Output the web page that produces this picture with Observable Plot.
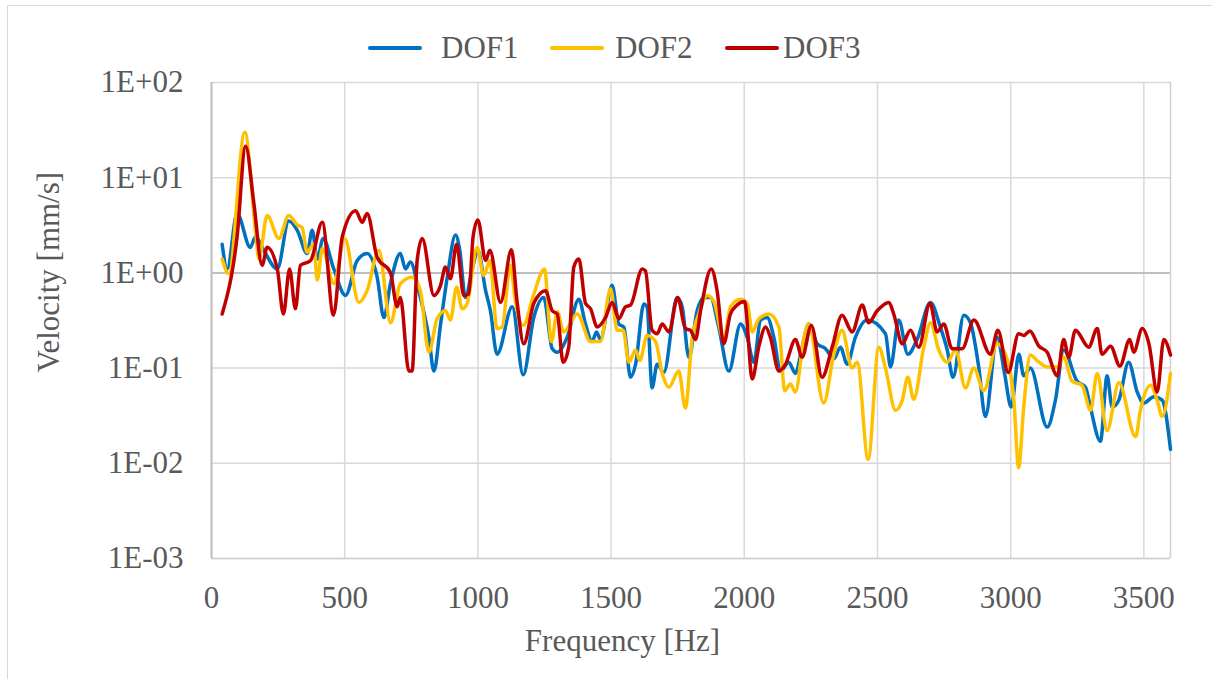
<!DOCTYPE html>
<html>
<head>
<meta charset="utf-8">
<script src="https://cdn.jsdelivr.net/npm/d3@7"></script>
<script src="https://cdn.jsdelivr.net/npm/@observablehq/plot@0.6"></script>
<style>
  html, body { margin: 0; padding: 0; background: #fff; }
  #wrap { position: relative; width: 1212px; height: 679px; overflow: hidden; font-family: 'Liberation Serif', 'Times New Roman', serif !important; }
  #wrap svg, #wrap svg text { font-family: 'Liberation Serif', 'Times New Roman', serif !important; }
  #frame { position: absolute; left: 7px; top: 5px; right: -3px; bottom: -3px; border: 1px solid #d9d9d9; pointer-events: none; }
  .sw { position: absolute; height: 4px; width: 54px; top: 45.5px; border-radius: 2px; }
  .lt { position: absolute; top: 32px; font-size: 31px; line-height: 31px; color: #595959; white-space: nowrap; font-family: 'Liberation Serif', 'Times New Roman', serif !important; }
</style>
</head>
<body>
<div id="wrap"><div id="frame"></div></div>
<script>
// ---- Data ----
const seriesNames = ["DOF1", "DOF2", "DOF3"];
const seriesColors = ["#0070C0", "#FFC000", "#C00000"];

const xTicks = [0, 500, 1000, 1500, 2000, 2500, 3000, 3500];
const xTickLabels = ["0", "500", "1000", "1500", "2000", "2500", "3000", "3500"];
const yTicks = [1e-3, 1e-2, 1e-1, 1e0, 1e1, 1e2];
const yTickLabels = ["1E-03", "1E-02", "1E-01", "1E+00", "1E+01", "1E+02"];

const dof1Freq = [40,59,96,146,165,196,247,290,322,359,378,397,419,459,503,547,584,622,647,672,709,728,747,778,816,835,860,885,916,932,953,979,1000,1029,1047,1072,1129,1170,1210,1247,1279,1298,1335,1379,1404,1429,1445,1460,1504,1529,1548,1573,1592,1623,1635,1654,1673,1698,1748,1767,1792,1823,1848,1873,1904,1942,1986,2011,2036,2061,2086,2111,2136,2167,2192,2217,2242,2274,2305,2336,2361,2386,2417,2461,2530,2549,2580,2614,2649,2699,2736,2762,2784,2824,2849,2880,2905,2949,2977,3002,3031,3049,3074,3137,3168,3199,3249,3281,3300,3337,3362,3381,3406,3443,3475,3500,3537,3569,3600];
const dof1Vel  = [2.0,1.1,4.2,1.85,2.4,1.73,1.1,3.5,2.8,1.6,2.8,1.4,2.3,1.1,0.58,1.35,1.6,0.9,0.34,0.78,1.6,1.1,1.3,0.65,0.21,0.093,0.29,0.9,2.5,1.73,0.55,1.1,1.73,0.65,0.4,0.14,0.44,0.085,0.34,0.55,0.16,0.147,0.21,0.53,0.29,0.19,0.24,0.2,0.74,0.29,0.27,0.08,0.11,0.47,0.44,0.062,0.11,0.09,0.55,0.44,0.13,0.4,0.55,0.55,0.27,0.093,0.29,0.21,0.115,0.32,0.34,0.21,0.093,0.115,0.088,0.166,0.29,0.18,0.16,0.125,0.166,0.11,0.21,0.32,0.23,0.103,0.32,0.14,0.2,0.49,0.27,0.155,0.08,0.36,0.3,0.103,0.031,0.21,0.088,0.039,0.14,0.083,0.1,0.024,0.046,0.155,0.073,0.063,0.038,0.017,0.083,0.039,0.046,0.115,0.056,0.043,0.05,0.046,0.014];

const dof2Freq = [40,65,125,165,178,209,253,290,322,340,359,384,397,416,459,500,553,584,628,672,709,753,784,816,847,878,897,920,941,960,997,1022,1045,1072,1091,1122,1141,1170,1210,1250,1276,1298,1322,1373,1423,1460,1498,1523,1545,1567,1592,1608,1635,1667,1692,1717,1754,1779,1804,1829,1861,1886,1923,1948,1986,2011,2030,2055,2092,2130,2152,2173,2192,2223,2242,2298,2336,2367,2405,2424,2465,2505,2530,2568,2593,2614,2636,2674,2699,2730,2762,2793,2830,2862,2899,2949,2980,3012,3030,3049,3074,3099,3137,3175,3199,3230,3268,3300,3325,3362,3406,3469,3487,3525,3550,3569,3600];
const dof2Vel  = [1.4,0.98,30,2.8,1.4,4.0,2.3,4.0,3.2,3.0,1.65,2.0,0.84,1.8,0.77,2.3,0.49,0.65,1.73,0.3,0.77,0.9,0.65,0.147,0.33,0.4,0.32,0.71,0.42,0.48,1.85,0.94,1.35,0.26,0.27,1.2,0.5,0.28,0.6,1.1,0.19,0.39,0.24,0.37,0.19,0.19,0.68,0.25,0.25,0.115,0.155,0.12,0.22,0.19,0.088,0.063,0.093,0.038,0.2,0.37,0.58,0.5,0.2,0.44,0.53,0.48,0.24,0.33,0.37,0.27,0.058,0.068,0.056,0.2,0.29,0.043,0.14,0.25,0.1,0.115,0.011,0.166,0.1,0.036,0.046,0.08,0.047,0.166,0.3,0.155,0.115,0.155,0.062,0.1,0.058,0.18,0.14,0.046,0.009,0.039,0.137,0.12,0.103,0.103,0.13,0.073,0.066,0.036,0.088,0.022,0.07,0.019,0.036,0.066,0.046,0.031,0.088];

const dof3Freq = [40,96,128,159,190,209,247,270,293,315,334,372,416,458,491,541,566,584,622,672,697,709,741,753,772,791,835,860,878,897,920,947,966,982,1000,1029,1045,1085,1126,1147,1172,1210,1254,1279,1298,1320,1341,1360,1379,1404,1423,1448,1479,1504,1529,1554,1573,1617,1629,1654,1673,1692,1717,1750,1779,1798,1817,1836,1876,1898,1923,1948,1973,2001,2030,2055,2080,2098,2130,2155,2192,2217,2252,2292,2330,2367,2405,2443,2467,2499,2543,2561,2593,2624,2655,2697,2724,2749,2780,2818,2862,2924,2952,2991,3030,3049,3072,3106,3137,3175,3199,3218,3243,3293,3325,3343,3375,3410,3447,3462,3494,3519,3550,3575,3600];
const dof3Vel  = [0.37,2.4,21.4,5.4,1.2,1.86,1.1,0.37,1.1,0.42,1.2,1.35,3.4,0.36,2.4,4.5,3.4,4.2,1.46,1.0,0.44,0.55,0.093,0.093,1.35,2.3,0.58,0.74,1.15,0.87,2.0,0.58,0.6,2.4,3.6,1.35,1.73,0.49,1.75,0.5,0.18,0.48,0.65,0.4,0.37,0.115,0.166,1.15,1.4,0.48,0.42,0.27,0.34,0.49,0.33,0.44,0.46,1.1,1.05,0.25,0.23,0.29,0.24,0.55,0.26,0.25,0.2,0.4,1.1,0.65,0.18,0.37,0.46,0.5,0.077,0.17,0.27,0.21,0.093,0.11,0.2,0.13,0.28,0.08,0.166,0.36,0.24,0.46,0.3,0.4,0.49,0.37,0.18,0.25,0.166,0.48,0.24,0.29,0.16,0.16,0.32,0.14,0.25,0.09,0.23,0.22,0.245,0.17,0.147,0.083,0.2,0.13,0.25,0.166,0.26,0.14,0.17,0.105,0.2,0.147,0.26,0.18,0.056,0.2,0.137];

// ---- Build table ----
const seriesData = [[dof1Freq, dof1Vel], [dof2Freq, dof2Vel], [dof3Freq, dof3Vel]];
const rows = seriesData.flatMap(([f, v], i) => f.map((x, j) => ({series: seriesNames[i], freq: x, vel: v[j]})));

const font = "'Liberation Serif', 'Times New Roman', serif";
const textColor = "#595959";

const chart = Plot.plot({
  width: 1212,
  height: 679,
  marginLeft: 211,
  marginRight: 42,
  marginTop: 82,
  marginBottom: 121,
  style: {fontFamily: font, fontSize: "31px", color: textColor, background: "transparent", overflow: "visible"},
  x: {domain: [0, 3600], ticks: xTicks, tickSize: 0, tickPadding: 27, label: null,
      tickFormat: d => xTickLabels[xTicks.indexOf(d)]},
  y: {type: "log", domain: [1e-3, 1e2], ticks: yTicks, tickSize: 0, tickPadding: 28, label: null,
      tickFormat: d => yTickLabels[yTicks.findIndex(t => Math.abs(Math.log10(t) - Math.log10(d)) < 1e-6)]},
  color: {domain: seriesNames, range: seriesColors},
  marks: [
    Plot.ruleX(xTicks, {stroke: "#d9d9d9", strokeWidth: 1.5}),
    Plot.ruleY(yTicks, {stroke: "#d9d9d9", strokeWidth: 1.5}),
    Plot.ruleX([3600], {stroke: "#d0d0d0", strokeWidth: 1.5}),
    Plot.ruleY([1e-3], {stroke: "#d0d0d0", strokeWidth: 1.5}),
    Plot.ruleY([1], {stroke: "#bfbfbf", strokeWidth: 2}),
    Plot.ruleX([0], {stroke: "#bfbfbf", strokeWidth: 2}),
    Plot.line(rows, {x: "freq", y: "vel", z: "series", stroke: "series", curve: "monotone-x", strokeWidth: 3.5, strokeLinejoin: "round", strokeLinecap: "round"}),
    Plot.text(["Frequency [Hz]"], {frameAnchor: "bottom", dx: -68.5, dy: 82.5, fill: textColor, fontSize: 31, fontFamily: font, lineAnchor: "middle"}),
    Plot.text(["Velocity [mm/s]"], {frameAnchor: "left", rotate: -90, dx: -162, dy: 52, fill: textColor, fontSize: 31, fontFamily: font, lineAnchor: "middle"})
  ]
});

const wrap = document.getElementById("wrap");
chart.style.position = "absolute";
chart.style.left = "0px";
chart.style.top = "0px";
wrap.appendChild(chart);

// ---- Legend (HTML, above the plot area) ----
const legendLayout = [{sw: 368, tx: 441}, {sw: 550, tx: 615}, {sw: 725, tx: 783}];
seriesNames.forEach((name, i) => {
  const sw = document.createElement("div");
  sw.className = "sw";
  sw.style.left = legendLayout[i].sw + "px";
  sw.style.background = seriesColors[i];
  wrap.appendChild(sw);
  const t = document.createElement("div");
  t.className = "lt";
  t.style.left = legendLayout[i].tx + "px";
  t.textContent = name;
  wrap.appendChild(t);
});
</script>
</body>
</html>
